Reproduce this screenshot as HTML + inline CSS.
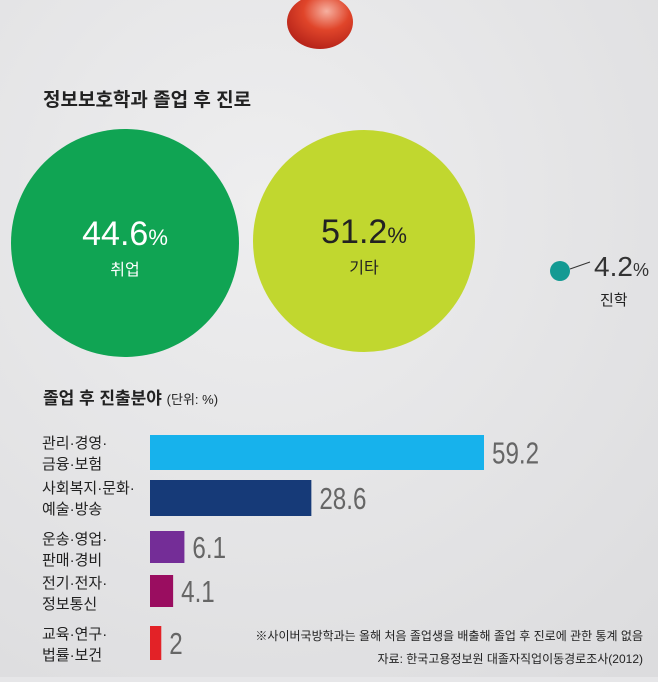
<!DOCTYPE html>
<html><head><meta charset="utf-8"><style>
body{margin:0;width:658px;height:677px;overflow:hidden;background:#e6e6e8;font-family:"Liberation Sans","Noto Sans CJK KR",sans-serif;}
svg text{font-family:"Liberation Sans","Noto Sans CJK KR",sans-serif;}
</style></head><body>
<svg width="658" height="677">
<defs><radialGradient id="bg" cx="0.4" cy="0.3" r="0.9"><stop offset="0" stop-color="#eeeeef"/><stop offset="1" stop-color="#dcdcde"/></radialGradient>
<radialGradient id="pin" cx="0.6" cy="0.3" r="0.7"><stop offset="0" stop-color="#f6b0a0"/><stop offset="0.5" stop-color="#e0452a"/><stop offset="1" stop-color="#b8251a"/></radialGradient></defs>
<rect width="658" height="677" fill="url(#bg)"/>
<ellipse cx="320" cy="22" rx="33" ry="27" fill="url(#pin)"/>
<text x="43" y="106" font-size="19" font-weight="bold" fill="#222">정보보호학과 졸업 후 진로</text>
<g><circle cx="125" cy="243" r="114" fill="#10a453"/>
<text x="125" y="245" font-size="34" fill="#fff" text-anchor="middle">44.6<tspan font-size="22">%</tspan></text>
<text x="125" y="275" font-size="16" fill="#fff" text-anchor="middle">취업</text></g>
<g><circle cx="364" cy="241" r="111" fill="#c1d72f"/>
<text x="364" y="243" font-size="34" fill="#222" text-anchor="middle">51.2<tspan font-size="22">%</tspan></text>
<text x="364" y="273" font-size="16" fill="#222" text-anchor="middle">기타</text></g>
<g><circle cx="560" cy="271" r="10" fill="#139a93"/>
<line x1="570" y1="269" x2="590" y2="262" stroke="#333"/>
<text x="594" y="276" font-size="28" fill="#333">4.2<tspan font-size="18">%</tspan></text>
<text x="600" y="305" font-size="15" fill="#222">진학</text></g>
<text x="43" y="404" font-size="17" font-weight="bold" fill="#222">졸업 후 진출분야 <tspan font-size="13" font-weight="normal">(단위: %)</tspan></text>
<g id="bars"></g>
<text x="643" y="640" font-size="12" fill="#222" text-anchor="end">※사이버국방학과는 올해 처음 졸업생을 배출해 졸업 후 진로에 관한 통계 없음</text>
<text x="643" y="663" font-size="12" fill="#222" text-anchor="end">자료: 한국고용정보원 대졸자직업이동경로조사(2012)</text>
</svg>
<script>
const labels1=["관리·경영·","사회복지·문화·","운송·영업·","전기·전자·","교육·연구·"];
const labels2=["금융·보험","예술·방송","판매·경비","정보통신","법률·보건"];
const values=[59.2,28.6,6.1,4.1,2];
const colors=["#17b2ec","#163a78","#742d97","#9a0d60","#e32227"];
const x0=150,scale=334/59.2;
const tops=[435,480,531,575,626],hs=[35,36,32,32,34];
const g=document.getElementById('bars');const ns="http://www.w3.org/2000/svg";
values.forEach((v,i)=>{
 const grp=document.createElementNS(ns,'g');
 
 
 const r=document.createElementNS(ns,'rect');
 
 
 r.setAttribute('x',x0);r.setAttribute('y',tops[i]);r.setAttribute('width',v*scale);r.setAttribute('height',hs[i]);r.setAttribute('fill',colors[i]);
 grp.appendChild(r);
 const t=document.createElementNS(ns,'text');
 
 
 const tx=x0+v*scale+8,ty=tops[i]+hs[i]/2+11;
 t.setAttribute('x',0);t.setAttribute('y',0);t.setAttribute('font-size','31');t.setAttribute('fill','#666');
 t.setAttribute('transform','translate('+tx+','+ty+') scale(0.78,1)');
 t.textContent=v;grp.appendChild(t);
 [labels1[i],labels2[i]].forEach((s,j)=>{
  const l=document.createElementNS(ns,'text');
  
  
  l.setAttribute('x',42);l.setAttribute('y',tops[i]+13+j*21);l.setAttribute('font-size','15');l.setAttribute('fill','#222');
  l.textContent=s;grp.appendChild(l);
 });
 g.appendChild(grp);
});
</script>
</body></html>
